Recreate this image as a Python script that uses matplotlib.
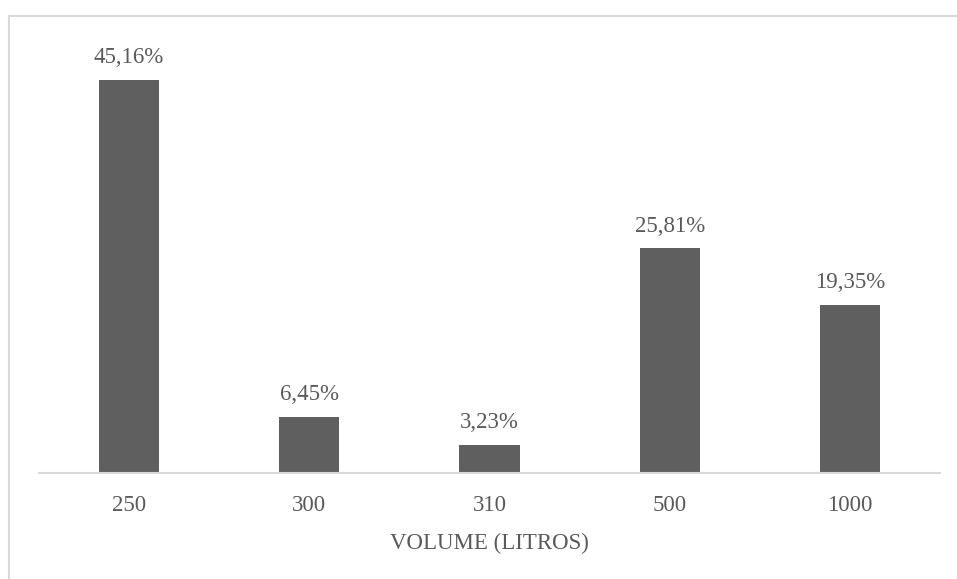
import matplotlib
matplotlib.use("Agg")
import matplotlib.pyplot as plt
from matplotlib.patches import Rectangle

categories = ["250", "300", "310", "500", "1000"]
values = [45.16, 6.45, 3.23, 25.81, 19.35]
value_labels = ["45,16%", "6,45%", "3,23%", "25,81%", "19,35%"]
x_label = "VOLUME (LITROS)"

W, H = 957, 579
fig = plt.figure(figsize=(W / 100, H / 100), dpi=100)
plt.rcParams["font.family"] = ["Liberation Serif", "DejaVu Serif"]
text_color = "#595959"
fs = 16.5

# outer chart frame
fig.add_artist(Rectangle((9 / W, -0.1), 1.2, 1 - 16 / H + 0.1,
                         transform=fig.transFigure, fill=False,
                         edgecolor="#d9d9d9", linewidth=1.5))

left, right = 39 / W, 940 / W
bottom = 1 - 473 / H
top = 1 - 38 / H
ax = fig.add_axes([left, bottom, right - left, top - bottom])

pos = list(range(len(categories)))
bars = ax.bar(pos, values, width=60 / 180, color="#5f5f5f")
ax.set_xlim(-0.5, len(categories) - 0.5)
ax.set_ylim(0, 50)

for rect, lab in zip(bars, value_labels):
    ax.annotate(lab, (rect.get_x() + rect.get_width() / 2, rect.get_height()),
                xytext=(0, 8.5), textcoords="offset points",
                ha="center", va="bottom", fontsize=fs, color=text_color)

for s in ["top", "right", "left"]:
    ax.spines[s].set_visible(False)
ax.spines["bottom"].set_color("#d9d9d9")
ax.spines["bottom"].set_linewidth(1.5)
ax.set_yticks([])
ax.set_xticks(pos)
ax.set_xticklabels(categories, fontsize=fs, color=text_color)
ax.tick_params(axis="x", length=0, pad=16)
ax.set_xlabel(x_label, fontsize=fs, color=text_color, labelpad=12)

fig.savefig("out.png", dpi=100)
